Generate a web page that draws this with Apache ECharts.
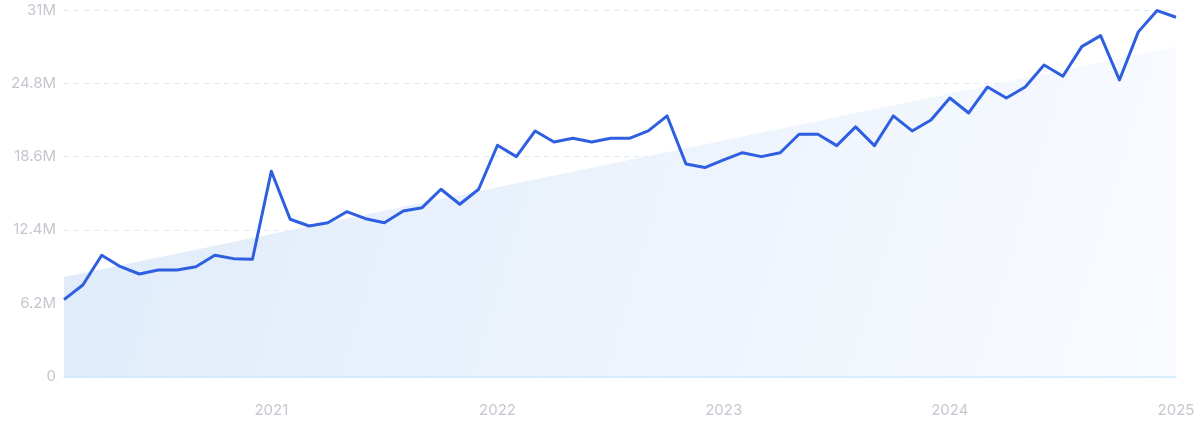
<!DOCTYPE html>
<html>
<head>
<meta charset="utf-8">
<script src="https://cdn.jsdelivr.net/npm/echarts@6/dist/echarts.min.js"></script>
<style>
html,body{margin:0;padding:0;background:#fff;}
#chart{width:1200px;height:432px;}
</style>
</head>
<body>
<div id="chart"></div>
<script>
// Monthly values, Feb 2020 .. Jan 2025 (millions)
const months = [
  '2020-02','2020-03','2020-04','2020-05','2020-06','2020-07','2020-08','2020-09','2020-10','2020-11','2020-12',
  '2021-01','2021-02','2021-03','2021-04','2021-05','2021-06','2021-07','2021-08','2021-09','2021-10','2021-11','2021-12',
  '2022-01','2022-02','2022-03','2022-04','2022-05','2022-06','2022-07','2022-08','2022-09','2022-10','2022-11','2022-12',
  '2023-01','2023-02','2023-03','2023-04','2023-05','2023-06','2023-07','2023-08','2023-09','2023-10','2023-11','2023-12',
  '2024-01','2024-02','2024-03','2024-04','2024-05','2024-06','2024-07','2024-08','2024-09','2024-10','2024-11','2024-12',
  '2025-01'
];
const values2020 = [6.50, 7.74, 10.25, 9.29, 8.67, 9.01, 9.01, 9.29, 10.25, 9.97, 9.92];
const values2021 = [17.36, 13.30, 12.73, 13.01, 13.94, 13.35, 13.01, 14.00, 14.28, 15.84, 14.57, 15.84];
const values2022 = [19.56, 18.60, 20.77, 19.84, 20.15, 19.84, 20.15, 20.15, 20.77, 22.04, 17.98, 17.67];
const values2023 = [18.32, 18.93, 18.60, 18.93, 20.49, 20.49, 19.53, 21.11, 19.53, 22.04, 20.77, 21.70];
const values2024 = [23.56, 22.29, 24.49, 23.56, 24.49, 26.35, 25.40, 27.90, 28.83, 25.08, 29.15, 30.95];
const values2025 = [30.39];
const trendEnds = [8.42, 27.90];
const yTicks = [0, 6.2, 12.4, 18.6, 24.8, 31];

const values = [].concat(values2020, values2021, values2022, values2023, values2024, values2025);

const chart = echarts.init(document.getElementById('chart'), null, {renderer: 'canvas'});
const labelColor = '#c5c6cf';
const font = 'Inter, "Noto Sans", sans-serif';

chart.setOption({
  animation: false,
  grid: {left: 64, right: 24, top: 10, bottom: 55.5, containLabel: false},
  xAxis: [{
    type: 'category',
    data: months,
    boundaryGap: false,
    axisLine: {show: true, lineStyle: {color: '#c8e6fb', width: 1.5}},
    axisTick: {show: false},
    axisLabel: {
      color: labelColor, fontSize: 15, fontFamily: font, margin: 26,
      interval: function (idx, val) { return val.slice(5) === '01'; },
      formatter: function (val) { return val.slice(0, 4); }
    },
    splitLine: {show: false}
  }, {
    type: 'value', min: 0, max: 1, show: false
  }],
  yAxis: {
    type: 'value',
    min: 0, max: 31, interval: 6.2,
    axisLine: {show: false},
    axisTick: {show: false},
    axisLabel: {
      color: labelColor, fontSize: 15, fontFamily: font, margin: 8,
      formatter: function (v) {
        const t = yTicks.find(function (k) { return Math.abs(k - v) < 1e-6; });
        if (t === undefined) return '';
        return t === 0 ? '0' : (Math.round(t * 10) / 10) + 'M';
      }
    },
    splitLine: {show: true, lineStyle: {color: '#dbe9f6', type: [5, 5], width: 1}}
  },
  series: [{
    type: 'line',
    xAxisIndex: 1,
    data: [[0, trendEnds[0]], [1, trendEnds[1]]],
    symbol: 'none',
    lineStyle: {width: 0, opacity: 0},
    areaStyle: {
      color: new echarts.graphic.LinearGradient(0, 0, 1, 1, [
        {offset: 0, color: '#dfebfa'},
        {offset: 1, color: '#f9fbff'}
      ]),
      opacity: 1
    },
    silent: true,
    z: 1
  }, {
    type: 'line',
    data: values,
    symbol: 'none',
    lineStyle: {color: '#2d5fe0', width: 3, join: 'round'},
    z: 3
  }]
});
</script>
</body>
</html>
